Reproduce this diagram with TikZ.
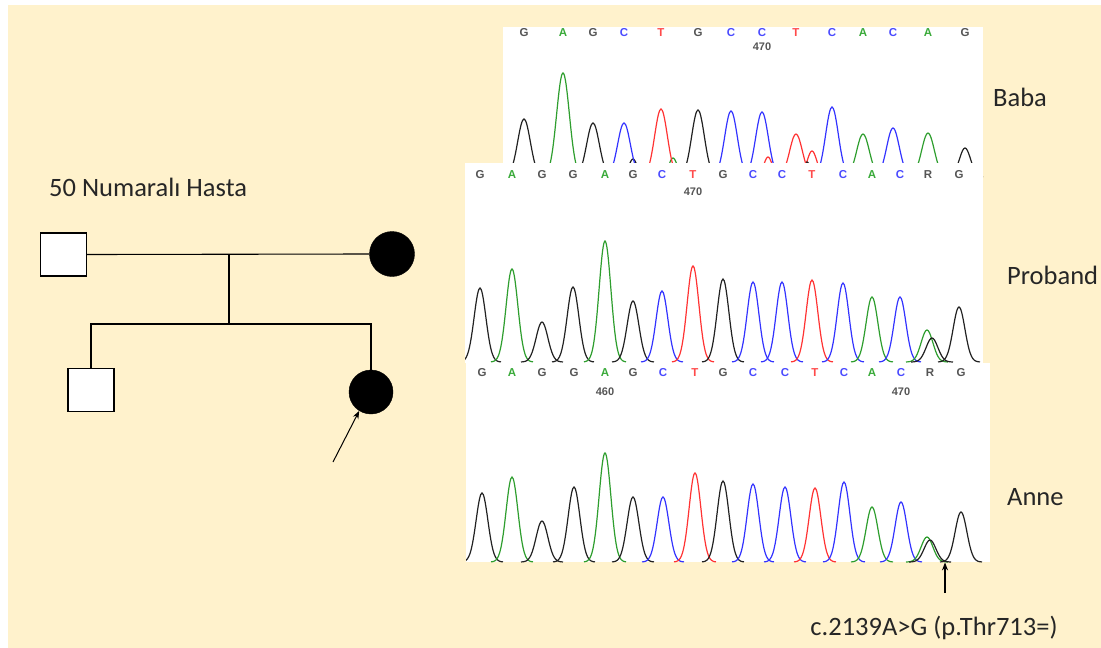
\documentclass[tikz,border=0pt]{standalone}
\usepackage{fontspec}
\setmainfont{Carlito}
\newfontfamily\arialfont{Liberation Sans}
\usetikzlibrary{arrows.meta}
\definecolor{bg}{HTML}{FFF2CC}
\definecolor{trG}{HTML}{222222}
\definecolor{trA}{HTML}{2E9E2E}
\definecolor{trC}{HTML}{3333FF}
\definecolor{trT}{HTML}{FF3333}
\definecolor{lbG}{HTML}{555555}
\definecolor{lbA}{HTML}{3AAA3A}
\definecolor{lbC}{HTML}{4A4AFF}
\definecolor{lbT}{HTML}{FF4A4A}
\definecolor{lbR}{HTML}{555555}
\tikzset{
  sq/.style={draw=black, fill=white, line width=1.1pt, minimum width=46pt, minimum height=43pt, inner sep=0pt},
  circ/.style={circle, draw=black, fill=black, minimum size=45pt, inner sep=0pt},
  pline/.style={line width=1.1pt, black},
  panel/.style={fill=white, draw=none, inner sep=0pt, anchor=north west},
  base letter/.style={font=\arialfont\bfseries\fontsize{11.5}{12}\selectfont, inner sep=0pt},
  posnum/.style={font=\arialfont\bfseries\fontsize{11}{12}\selectfont, text=lbG, inner sep=0pt},
  label/.style={font=\fontsize{26.5}{30}\selectfont, text=black!85, inner sep=0pt, anchor=west},
  trace/.style={line width=1.2pt},
  arr/.style={line width=1pt, -{Stealth[length=8pt,width=6pt]}}
}
\begin{document}
\begin{tikzpicture}[x=1pt,y=-1pt]
\useasboundingbox (0,0) rectangle (1101,648);
\fill[white] (0,0) rectangle (1101,648);
\fill[bg] (8,5) rectangle (1101,648);

% ---------- pedigree ----------
\node[label] (title) at (49,187) {50 Numaralı Hasta};
\node[sq] (fa) at (63.5,254.5) {};
\node[circ] (mo) at (392,254) {};
\draw[pline] (fa.east) -- (mo.west);
\coordinate (mid) at (229,254);
\coordinate (sb) at (229,324);
\draw[pline] (mid) -- (sb);
\coordinate (sl) at (90,324);
\coordinate (sr) at (372,324);
\draw[pline] (sl) -- (sr);
\node[sq] (so) at (91,390) {};
\node[circ, minimum size=44pt] (da) at (371,392) {};
\draw[pline] (so.north) -- (so.north |- sl);
\draw[pline] (da.north) -- (da.north |- sr);
\coordinate (pa) at (333,462);
\draw[arr] (pa) -- (da.238);

% ---------- Baba panel ----------
\node[panel, minimum width=480pt, minimum height=150pt] (pb) at (503,27) {};
\begin{scope}
\clip (503,27) rectangle (983,177);
\foreach \l/\p in {G/524,A/563,G/593,C/624,T/661,G/698,C/731,C/762,T/796,C/832,A/863,C/893,A/928,G/965}
  \node[base letter, text=lb\l] at (\p,33) {\l};
\node[posnum] at (762,47) {470};
\foreach \c/\p/\t/\s in {G/633/159/6,A/673/158/6,T/768/157/6,T/812/151/7,G/807/162/5,
  G/524/119/9,A/563/73/9,G/593/123/9,C/624/123/9,T/661/109/9,G/698/110/9,C/731/111/9,C/762/112/9,
  T/796/134/9,C/832/107/9,A/863/134/9,C/893/128/9,A/928/133/9,G/965/148/8}
  \draw[trace, tr\c] plot[domain=\p-2.6*\s:\p+2.6*\s, samples=35, smooth] (\x,{177-(177-\t)*exp(-((\x-\p)/\s)^2)});
\end{scope}

% ---------- Proband panel ----------
\node[panel, minimum width=518pt, minimum height=200pt] (pp) at (465,163) {};
\begin{scope}
\clip (465,163) rectangle (983,363);
\foreach \l/\p in {G/480,A/512,G/542,G/573,A/605,G/633,C/662,T/693,G/723,C/753,C/782,T/812,C/843,A/872,C/900,R/928,G/959}
  \node[base letter, text=lb\l] at (\p,175) {\l};
\node[posnum] at (693,192) {470};
\foreach \c/\p/\t in {G/480/288,A/512/269,G/542/322,G/573/287,A/605/241,G/633/301,C/662/291,T/693/266,G/723/279,
  C/753/282,C/782/282,T/812/280,C/843/283,A/872/297,C/900/297,A/927/330,G/932/338,G/959/307}
  \draw[trace, tr\c] plot[domain=\p-21:\p+21, samples=35, smooth] (\x,{362-(362-\t)*exp(-((\x-\p)/8.3)^2)});
\end{scope}

% ---------- Anne panel ----------
\node[panel, minimum width=524pt, minimum height=199pt] (pa2) at (466,363) {};
\begin{scope}
\clip (466,363) rectangle (990,562);
\foreach \l/\p in {G/482,A/512,G/542,G/574,A/605,G/633,C/663,T/695,G/723,C/753,C/785,T/815,C/844,A/872,C/901,R/930,G/961}
  \node[base letter, text=lb\l] at (\p,373) {\l};
\node[posnum] at (605,392) {460};
\node[posnum] at (901,392) {470};
\foreach \c/\p/\t in {G/482/493,A/512/477,G/542/521,G/574/487,A/605/453,G/633/497,C/663/497,T/695/473,G/723/481,
  C/753/484,C/785/487,T/815/488,C/844/482,A/872/507,C/901/502,A/927/537,G/930/540,G/961/512}
  \draw[trace, tr\c] plot[domain=\p-21:\p+21, samples=35, smooth] (\x,{562-(562-\t)*exp(-((\x-\p)/8.3)^2)});
\end{scope}

% ---------- labels ----------
\node[label] (lbaba) at (993,97) {Baba};
\node[label] (lpro) at (1007,275) {Proband};
\node[label] (lanne) at (1007,497) {Anne};
\coordinate (mt) at (945,593);
\draw[arr, line width=1.1pt] (mt) -- (mt |- pa2.south);
\node[font=\fontsize{26.5}{30}\selectfont, text=black!85, inner sep=0pt] (mut) at (934,628) {c.2139A>G (p.Thr713=)};
\end{tikzpicture}
\end{document}
